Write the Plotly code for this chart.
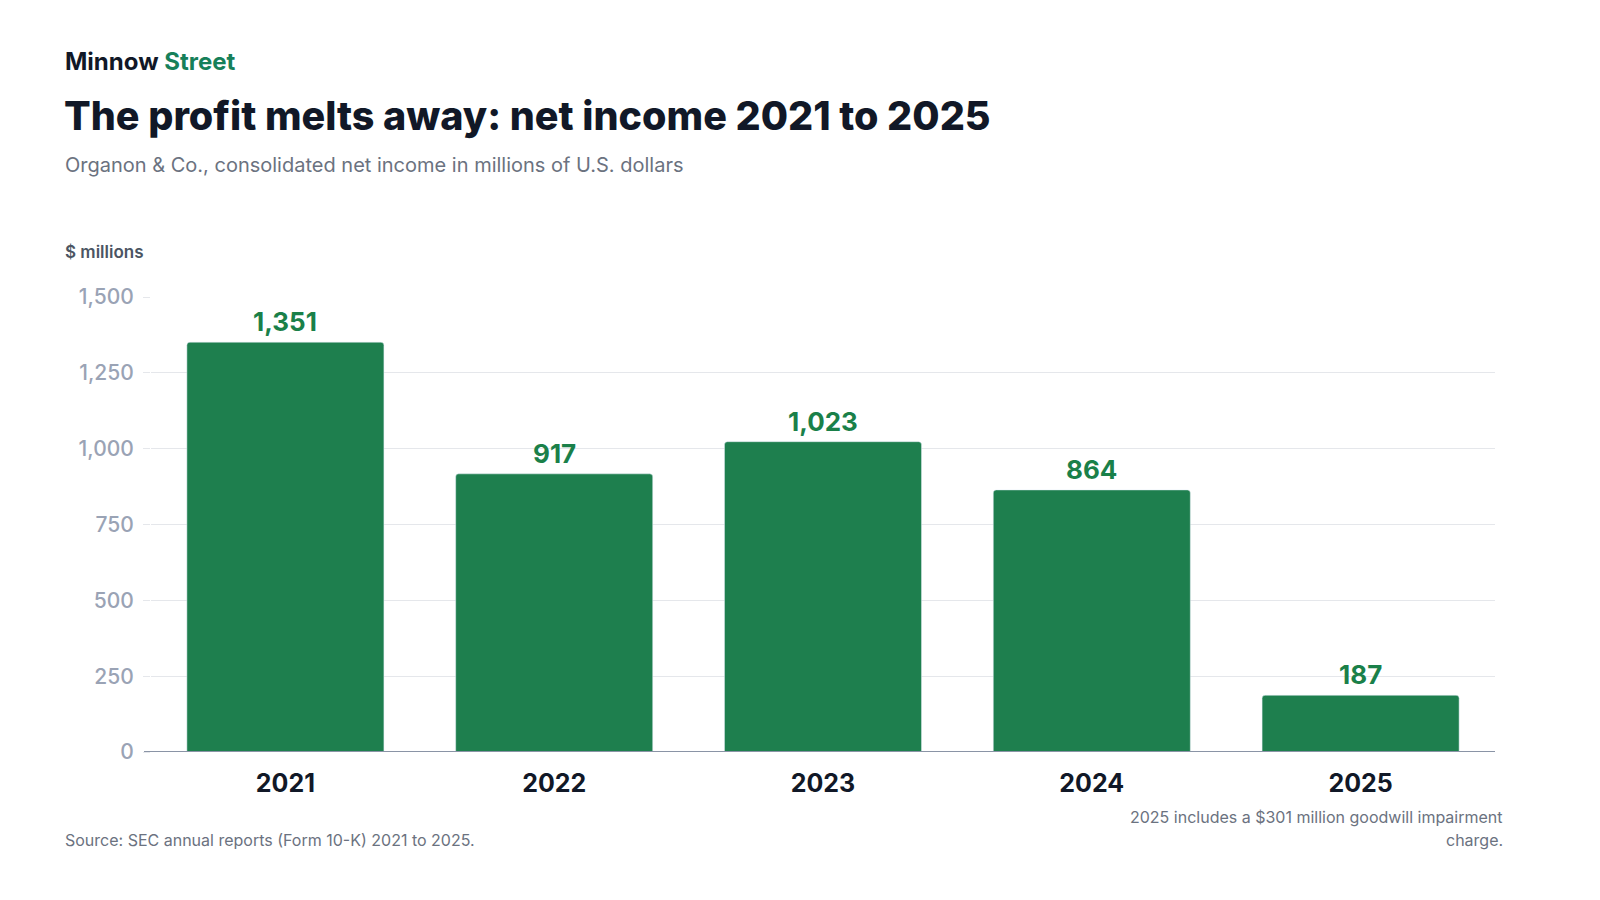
import plotly.graph_objects as go

# data
years = ["2021", "2022", "2023", "2024", "2025"]
net_income = [1351, 917, 1023, 864, 187]
label_text = ["1,351", "917", "1,023", "864", "187"]
y_ticks = [0, 250, 500, 750, 1000, 1250, 1500]
y_tick_text = ["0", "250", "500", "750", "1,000", "1,250", "1,500"]

W, H = 1600, 900
L, R, T, B = 151, 105, 297, 148
PW, PH = W - L - R, H - T - B

GREEN = "#1e7f4e"
INK = "#111827"
MUTED = "#6b7280"
GRID = "#e5e7eb"
FONT = "Inter, Roboto, sans-serif"


def px(x):
    return (x - L) / PW


def py(y):
    return (H - B - y) / PH


fig = go.Figure(
    go.Bar(
        x=years,
        y=net_income,
        marker=dict(color=GREEN, cornerradius=3),
        hoverinfo="skip",
    )
)

# value labels above the bars (x given as category index, since the
# year strings look numeric and would be read as positions)
for i, (val, lab) in enumerate(zip(net_income, label_text)):
    fig.add_annotation(
        x=i, y=val, text=lab, showarrow=False,
        yanchor="bottom", yshift=3,
        font=dict(family=FONT, size=26, color="#1a8049", weight=700),
    )

notes = [
    dict(x=px(63), y=py(61), text="Minnow <span style='color:#16805a'>Street</span>",
         size=24, color=INK, xanchor="left", weight=700),
    dict(x=px(62), y=py(116), text="The profit melts away: net income 2021 to 2025",
         size=39.5, color=INK, xanchor="left", weight=800),
    dict(x=px(63), y=py(165), text="Organon &amp; Co., consolidated net income in millions of U.S. dollars",
         size=20, color=MUTED, xanchor="left", weight=400),
    dict(x=px(63), y=py(252), text="$ millions",
         size=17, color="#4b5563", xanchor="left", weight=600),
    dict(x=px(63), y=py(840), text="Source: SEC annual reports (Form 10-K) 2021 to 2025.",
         size=16, color=MUTED, xanchor="left", weight=400),
    dict(x=px(1505), y=py(817), text="2025 includes a $301 million goodwill impairment",
         size=16, color=MUTED, xanchor="right", weight=400),
    dict(x=px(1505), y=py(840), text="charge.",
         size=16, color=MUTED, xanchor="right", weight=400),
]
for n in notes:
    fig.add_annotation(
        x=n["x"], y=n["y"], xref="paper", yref="paper",
        text=n["text"], showarrow=False,
        xanchor=n["xanchor"], yanchor="middle",
        font=dict(family=FONT, size=n["size"], color=n["color"], weight=n["weight"]),
    )

# baseline runs a little left of the bars, like the gridlines
fig.add_shape(
    type="line", xref="paper", yref="y",
    x0=px(144), x1=1, y0=0, y1=0,
    line=dict(color="#8a94a6", width=2), layer="above",
)

fig.update_layout(
    width=W, height=H,
    margin=dict(l=L, r=R, t=T, b=B),
    paper_bgcolor="white",
    plot_bgcolor="white",
    bargap=0.267,
    showlegend=False,
    font=dict(family=FONT),
)
fig.update_xaxes(
    type="category",
    showgrid=False,
    showline=False,
    tickfont=dict(family=FONT, size=25, color=INK, weight=700),
    ticklabelstandoff=14,
)
fig.update_yaxes(
    range=[0, 1500],
    tickvals=y_ticks, ticktext=y_tick_text,
    showgrid=True, gridcolor=GRID, gridwidth=1,
    ticks="outside", ticklen=7, tickcolor=GRID, tickwidth=1,
    zeroline=False,
    tickfont=dict(family=FONT, size=21, color="#9aa3b5", weight=500),
    ticklabelstandoff=5,
)

# drop the default page margin so the 1600x900 figure fills the window exactly
fig.write_html(
    "out.html",
    config={"displayModeBar": False},
    post_script="document.body.style.margin='0';",
)
